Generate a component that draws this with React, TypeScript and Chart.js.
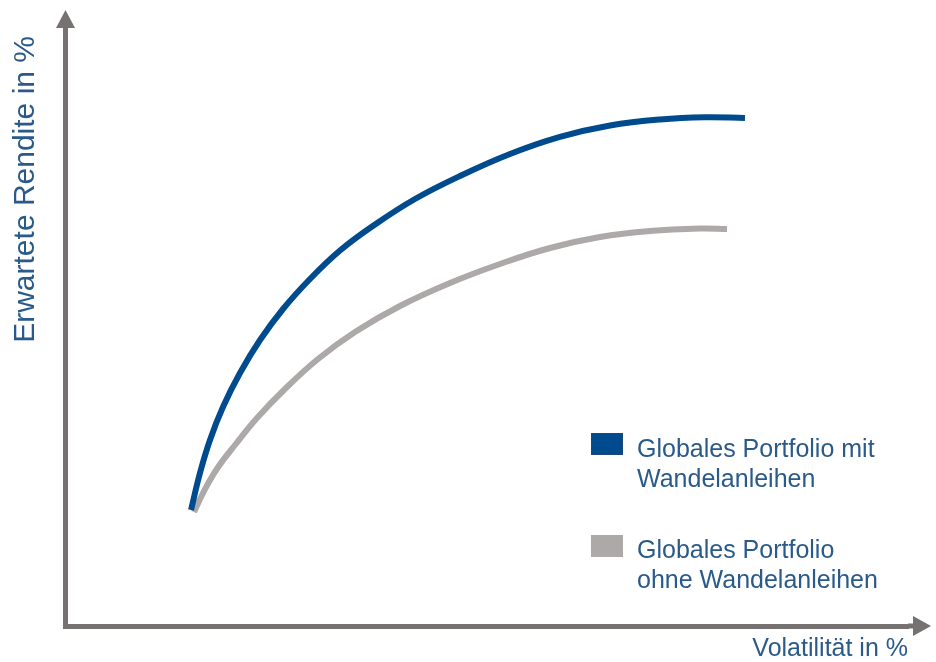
import React, { useEffect, useRef } from 'react';
import { Chart, registerables } from 'chart.js';

Chart.register(...registerables);

// Conceptual efficient-frontier chart (no tick values). Units: 0-100 on both axes.
const SERIES_NAMES = ['Globales Portfolio mit Wandelanleihen', 'Globales Portfolio ohne Wandelanleihen'];
const LEGEND_LINES = [
  ['Globales Portfolio mit', 'Wandelanleihen'],
  ['Globales Portfolio', 'ohne Wandelanleihen'],
];
const X_TITLE = 'Volatilität in %';
const Y_TITLE = 'Erwartete Rendite in %';

const WITH_X = [14.9, 15.96, 17.15, 18.69, 20.71, 23.09, 25.82, 29.02, 32.58, 36.74, 41.48, 46.82, 52.76, 58.69, 64.63, 70.56, 75.91, 80.65];
const WITH_Y = [19.66, 25.93, 31.53, 37.12, 42.88, 48.47, 53.73, 58.81, 63.64, 68.05, 72.37, 76.27, 80.0, 82.9, 84.83, 85.85, 86.22, 86.1];

const WITHOUT_X = [15.25, 16.56, 18.1, 20.12, 22.73, 26.05, 29.97, 34.36, 39.7, 45.64, 51.57, 57.51, 63.44, 69.38, 75.31, 78.52];
const WITHOUT_Y = [19.32, 23.2, 26.9, 30.68, 35.25, 40.17, 45.25, 49.83, 54.24, 58.14, 61.36, 64.07, 65.93, 66.95, 67.37, 67.29];

const BLUE = '#004B8D';
const BLUE_EDGE = '#1E4677';
const GRAY = '#ADA9A9';
const AXIS = '#767272';
const TEXT = '#2A5A8A';
const FONT = "'Liberation Sans', Arial, sans-serif";

const arrowPlugin = {
  id: 'axisArrows',
  afterDraw(chart: any) {
    const { ctx, chartArea } = chart;
    const { left, top, right, bottom } = chartArea;
    ctx.save();
    ctx.fillStyle = AXIS;
    // y arrow
    ctx.fillRect(left - 2.5, top - 9, 5, 9);
    ctx.beginPath();
    ctx.moveTo(left, top - 26);
    ctx.lineTo(left - 9.5, top - 8);
    ctx.lineTo(left + 9.5, top - 8);
    ctx.closePath();
    ctx.fill();
    // x arrow
    ctx.fillRect(right, bottom - 2.5, 6, 5);
    ctx.beginPath();
    ctx.moveTo(right + 23, bottom);
    ctx.lineTo(right + 5, bottom - 10);
    ctx.lineTo(right + 5, bottom + 10);
    ctx.closePath();
    ctx.fill();
    ctx.restore();
  },
};

const legendPlugin = {
  id: 'customLegend',
  afterDraw(chart: any) {
    const { ctx } = chart;
    const colors = [BLUE, GRAY];
    const edges = [BLUE_EDGE, GRAY];
    const boxTops = [433, 535];
    const baselines = [456.7, 558.3];
    ctx.save();
    colors.forEach((c, i) => {
      ctx.fillStyle = c;
      ctx.fillRect(591, boxTops[i], 32, 22);
      ctx.strokeStyle = edges[i];
      ctx.lineWidth = 1;
      ctx.strokeRect(591.5, boxTops[i] + 0.5, 31, 21);
      ctx.fillStyle = TEXT;
      ctx.font = `25px ${FONT}`;
      ctx.textBaseline = 'alphabetic';
      ctx.textAlign = 'left';
      LEGEND_LINES[i].forEach((line, j) => {
        ctx.fillText(line, 637, baselines[i] + j * 30);
      });
    });
    ctx.restore();
  },
};

export default function App() {
  const ref = useRef<HTMLCanvasElement | null>(null);
  useEffect(() => {
    if (!ref.current) return;
    const chart = new Chart(ref.current, {
      type: 'line',
      data: {
        datasets: [
          {
            label: SERIES_NAMES[0],
            data: WITH_X.map((x, i) => ({ x, y: WITH_Y[i] })),
            borderColor: BLUE,
            backgroundColor: BLUE,
            borderWidth: 6,
            pointRadius: 0,
            tension: 0.4,
            fill: false,
          },
          {
            label: SERIES_NAMES[1],
            data: WITHOUT_X.map((x, i) => ({ x, y: WITHOUT_Y[i] })),
            borderColor: GRAY,
            backgroundColor: GRAY,
            borderWidth: 6,
            pointRadius: 0,
            tension: 0.4,
            fill: false,
          },
        ],
      },
      options: {
        responsive: false,
        animation: false,
        devicePixelRatio: 1,
        layout: { padding: { left: 10.5, right: 28, top: 36, bottom: 0 } },
        plugins: { legend: { display: false }, tooltip: { enabled: false } },
        scales: {
          x: {
            type: 'linear',
            min: 0,
            max: 100,
            ticks: { display: false },
            grid: { display: false, drawTicks: false, tickLength: 0 },
            border: { display: true, width: 5, color: AXIS },
            title: {
              display: true,
              text: X_TITLE,
              align: 'end',
              color: TEXT,
              font: { family: FONT, size: 25, lineHeight: 1 },
              padding: { top: 11, bottom: 0 },
            },
          },
          y: {
            type: 'linear',
            min: 0,
            max: 100,
            ticks: { display: false },
            grid: { display: false, drawTicks: false, tickLength: 0 },
            border: { display: true, width: 5, color: AXIS },
            title: {
              display: true,
              text: Y_TITLE,
              align: 'end',
              color: TEXT,
              font: { family: FONT, size: 30, lineHeight: 1 },
              padding: { top: 0, bottom: 25 },
            },
          },
        },
      },
      plugins: [arrowPlugin, legendPlugin],
    } as any);
    return () => chart.destroy();
  }, []);
  return (
    <div style={{ position: 'fixed', left: 0, top: 0, width: 936, height: 662, background: '#fff' }}>
      <canvas ref={ref} width={936} height={662} />
    </div>
  );
}
